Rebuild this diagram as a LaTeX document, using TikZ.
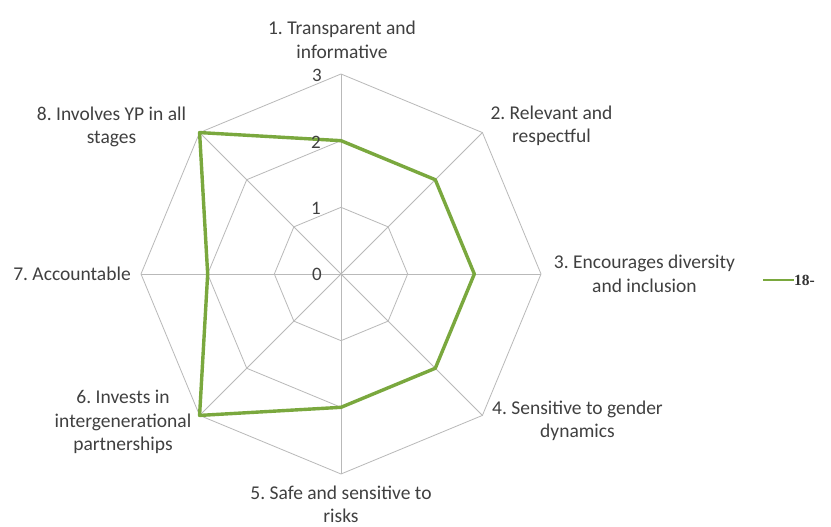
\documentclass[tikz,border=0pt]{standalone}
\usepackage{fontspec}
\setmainfont{Carlito}
\newfontfamily\legendfont{Liberation Serif}
\definecolor{series}{RGB}{122,168,62}
\definecolor{gridgray}{RGB}{185,185,185}
\definecolor{labeltext}{RGB}{64,64,64}
\frenchspacing
\begin{document}
\begin{tikzpicture}[x=1pt,y=1pt,
  gridline/.style={draw=gridgray,line width=0.8pt},
  seriesline/.style={draw=series,line width=3.4pt,line join=round},
  axlabel/.style={text=labeltext,align=center,inner sep=0pt,font=\fontsize{19.5}{23.5}\selectfont},
  ticklabel/.style={text=labeltext,inner sep=0pt,font=\fontsize{19}{20}\selectfont}]
\useasboundingbox (0,0) rectangle (831,527);
\fill[white] (0,0) rectangle (831,527);
\coordinate (C) at (341,253);
\begin{scope}[shift={(C)}]
  \foreach \r in {66.67,133.33,200}{
    \draw[gridline] (90:\r) -- (45:\r) -- (0:\r) -- (-45:\r) -- (-90:\r) -- (-135:\r) -- (180:\r) -- (135:\r) -- cycle;
  }
  \foreach \a in {90,45,0,-45,-90,-135,180,135}{
    \draw[gridline] (0,0) -- (\a:200);
  }
  \draw[seriesline] (90:133.33) -- (45:133.33) -- (0:133.33) -- (-45:133.33) -- (-90:133.33) -- (-135:200) -- (180:133.33) -- (135:200) -- cycle;
\end{scope}
\node[ticklabel] (t3) at (317,452) {3};
\node[ticklabel] (t2) at (316,385) {2};
\node[ticklabel] (t1) at (316,319) {1};
\node[ticklabel] (t0) at (317,253) {0};
\node[axlabel] (l1) at (342,487) {1. Transparent and\\informative};
\node[axlabel] (l2) at (551.5,401) {2. Relevant and\\respectful};
\node[axlabel] (l3) at (644.5,253) {3. Encourages diversity\\and inclusion};
\node[axlabel] (l4) at (577.5,106) {4. Sensitive to gender\\dynamics};
\node[axlabel] (l5) at (341,22.5) {5. Safe and sensitive to\\risks};
\node[axlabel] (l6) at (123,105) {6. Invests in\\intergenerational\\partnerships};
\node[axlabel] (l7) at (72,253) {7. Accountable};
\node[axlabel] (l8) at (111.5,400) {8. Involves YP in all\\stages};
\coordinate (lg0) at (763,247);
\node[anchor=west,inner sep=0pt,text=black!80,font=\legendfont\bfseries\fontsize{15.5}{16}\selectfont] (lgt) at (794,247) {18-};
\draw[draw=series,line width=2.5pt] (lg0) -- (lgt.west);
\end{tikzpicture}
\end{document}
